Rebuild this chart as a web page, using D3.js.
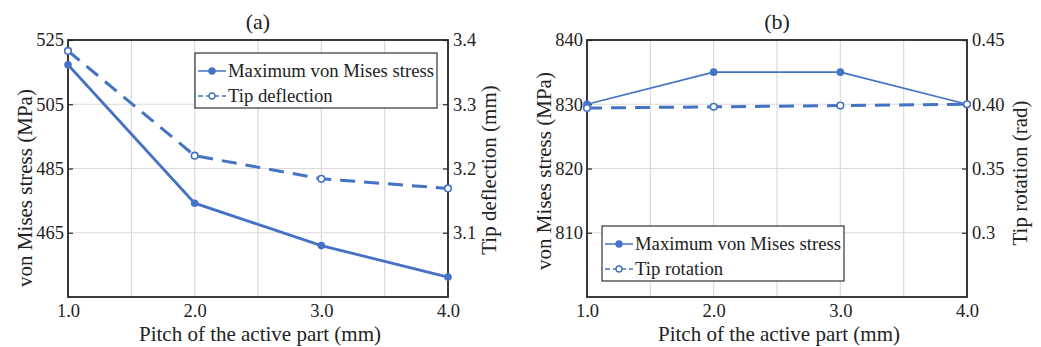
<!DOCTYPE html>
<html>
<head>
<meta charset="utf-8">
<script src="https://cdn.jsdelivr.net/npm/d3@7"></script>
<style>
  body { margin: 0; background: #fff; }
  svg { display: block; }
  svg text { font-family: "Liberation Serif", "Times New Roman", serif; }
</style>
</head>
<body>
<svg id="chart" width="1041" height="347"></svg>
<script>
// valores
const pitch = [1.0, 2.0, 3.0, 4.0];
const xTicks = [1.0, 2.0, 3.0, 4.0];
const xGrid = [1.0, 1.5, 2.0, 2.5, 3.0, 3.5, 4.0];

// panel (a)
const stressA = [517.3, 474.2, 461.0, 451.2];
const deflection = [3.383, 3.220, 3.184, 3.169];
const leftTicksA = [525, 505, 485, 465];
const rightTicksA = [3.4, 3.3, 3.2, 3.1];
const rightLabelsA = ["3.4", "3.3", "3.2", "3.1"];

// panel (b)
const stressB = [830, 835, 835, 830];
const rotation = [0.397, 0.398, 0.399, 0.400];
const leftTicksB = [840, 830, 820, 810];
const rightTicksB = [0.45, 0.40, 0.35, 0.30];
const rightLabelsB = ["0.45", "0.40", "0.35", "0.3"];

const blue = "#4472c4";
const ink = "#222";
const serif = '"Liberation Serif", "Times New Roman", serif';
const svg = d3.select("#chart");

function panel(cfg) {
  const x = d3.scaleLinear().domain([1, 4]).range([cfg.left, cfg.left + 380]);
  const yL = d3.scaleLinear().domain(cfg.leftDomain).range([297, 40]);
  const yR = d3.scaleLinear().domain(cfg.rightDomain).range([297, 40]);
  const g = svg.append("g");

  // rejilla
  g.selectAll(".vg").data(xGrid).enter().append("line")
    .attr("x1", d => x(d)).attr("x2", d => x(d))
    .attr("y1", 40).attr("y2", 297)
    .attr("stroke", "#dadada").attr("stroke-width", 1.2);
  g.selectAll(".hg").data(cfg.leftTicks).enter().append("line")
    .attr("x1", x(1)).attr("x2", x(4))
    .attr("y1", d => yL(d)).attr("y2", d => yL(d))
    .attr("stroke", "#dadada").attr("stroke-width", 1.2);

  // ejes (marcas hacia dentro)
  const axL = g.append("g").attr("transform", `translate(${x(1)},0)`)
    .call(d3.axisLeft(yL).tickValues(cfg.leftTicks).tickSizeInner(-5).tickSizeOuter(0).tickPadding(4));
  const axR = g.append("g").attr("transform", `translate(${x(4)},0)`)
    .call(d3.axisRight(yR).tickValues(cfg.rightTicks).tickSizeInner(-5).tickSizeOuter(0).tickPadding(5)
      .tickFormat((d, i) => cfg.rightLabels[i]));
  const axB = g.append("g").attr("transform", "translate(0,297)")
    .call(d3.axisBottom(x).tickValues(xTicks).tickSize(0).tickPadding(7).tickFormat(d3.format(".1f")));
  [axL, axR, axB].forEach(a => {
    a.attr("font-family", null).attr("font-size", null);
    a.select(".domain").remove();
    a.selectAll("line").attr("stroke", "#262626").attr("stroke-width", 1.2);
    a.selectAll("text").style("font-family", serif).style("font-size", "18.5px").attr("fill", ink);
  });

  // marco
  g.append("rect").attr("x", x(1)).attr("y", 40)
    .attr("width", x(4) - x(1)).attr("height", 257)
    .attr("fill", "none").attr("stroke", "#262626").attr("stroke-width", 1.8);

  // series
  const lineL = d3.line().x((d, i) => x(pitch[i])).y(d => yL(d));
  const lineR = d3.line().x((d, i) => x(pitch[i])).y(d => yR(d));
  g.append("path").datum(cfg.rightData).attr("d", lineR)
    .attr("fill", "none").attr("stroke", blue).attr("stroke-width", 3)
    .attr("stroke-dasharray", "15,9");
  g.append("path").datum(cfg.leftData).attr("d", lineL)
    .attr("fill", "none").attr("stroke", blue).attr("stroke-width", cfg.solidWidth);
  g.selectAll(".pl").data(cfg.leftData).enter().append("circle")
    .attr("cx", (d, i) => x(pitch[i])).attr("cy", d => yL(d)).attr("r", 3.8)
    .attr("fill", blue);
  g.selectAll(".pr").data(cfg.rightData).enter().append("circle")
    .attr("cx", (d, i) => x(pitch[i])).attr("cy", d => yR(d)).attr("r", 3.3)
    .attr("fill", "#fff").attr("stroke", blue).attr("stroke-width", 1.6);

  // titulos
  g.append("text").attr("x", x(2.5)).attr("y", 29).attr("text-anchor", "middle")
    .style("font-size", "22px").attr("fill", ink).text(cfg.title);
  g.append("text").attr("x", x(2.5) + 2).attr("y", 341).attr("text-anchor", "middle")
    .style("font-size", "21px").attr("fill", ink).text("Pitch of the active part (mm)");
  g.append("text").attr("transform", `translate(${cfg.leftTitleX},${cfg.leftTitleY}) rotate(-90)`)
    .attr("text-anchor", "middle").style("font-size", "21px").attr("fill", ink)
    .text("von Mises stress (MPa)");
  g.append("text").attr("transform", `translate(${cfg.rightTitleX},${cfg.rightTitleY}) rotate(-90)`)
    .attr("text-anchor", "middle").style("font-size", "21px").attr("fill", ink)
    .text(cfg.rightTitle);

  // leyenda
  const lg = g.append("g").attr("transform", `translate(${cfg.legX},${cfg.legY})`);
  lg.append("rect").attr("width", 242).attr("height", 55)
    .attr("fill", "#fff").attr("stroke", "#333").attr("stroke-width", 1.2);
  const items = [
    { name: "Maximum von Mises stress", dash: null, open: false },
    { name: cfg.rightName, dash: "5,3", open: true }
  ];
  items.forEach((it, i) => {
    const cy = 18 + i * 25;
    lg.append("line").attr("x1", 3).attr("x2", 31).attr("y1", cy).attr("y2", cy)
      .attr("stroke", blue).attr("stroke-width", 1.5)
      .attr("stroke-dasharray", it.dash);
    lg.append("circle").attr("cx", 17).attr("cy", cy).attr("r", 3)
      .attr("fill", it.open ? "#fff" : blue).attr("stroke", blue).attr("stroke-width", 1.4);
    lg.append("text").attr("x", 33).attr("y", cy + 6).style("font-size", "18.7px")
      .attr("fill", ink).text(it.name);
  });
}

panel({
  left: 68, title: "(a)",
  leftDomain: [445, 525], rightDomain: [3.0, 3.4],
  leftTicks: leftTicksA, rightTicks: rightTicksA, rightLabels: rightLabelsA,
  leftData: stressA, rightData: deflection, solidWidth: 2.8,
  rightTitle: "Tip deflection (mm)", rightName: "Tip deflection",
  leftTitleX: 32, leftTitleY: 188, rightTitleX: 496, rightTitleY: 170,
  legX: 195, legY: 53
});

panel({
  left: 587, title: "(b)",
  leftDomain: [800, 840], rightDomain: [0.25, 0.45],
  leftTicks: leftTicksB, rightTicks: rightTicksB, rightLabels: rightLabelsB,
  leftData: stressB, rightData: rotation, solidWidth: 1.6,
  rightTitle: "Tip rotation (rad)", rightName: "Tip rotation",
  leftTitleX: 551, leftTitleY: 171, rightTitleX: 1027, rightTitleY: 173,
  legX: 602, legY: 226
});
</script>
</body>
</html>
